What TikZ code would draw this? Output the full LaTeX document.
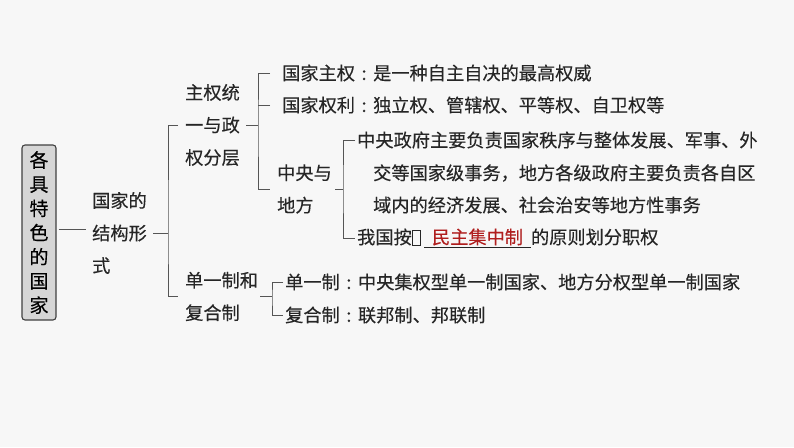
\documentclass[tikz,border=0pt]{standalone}
\usepackage{fontspec}
\newfontfamily\cjk[FakeBold=0.3]{Noto Sans CJK SC}
\definecolor{linegray}{HTML}{555555}
\definecolor{boxgray}{HTML}{D6D6D6}
\definecolor{keyred}{HTML}{B01E1E}
\newcommand{\tofu}{{\setlength{\fboxsep}{0pt}\setlength{\fboxrule}{0.6pt}\fbox{\rule[-1pt]{0pt}{14pt}\hspace{8pt}}}}
\newcommand{\colo}{\makebox[1em][c]{:}}
\tikzset{
  lbl/.style={anchor=west, inner sep=0pt, align=left, text=black!85,
    font=\cjk\fontsize{18.2}{32.5}\selectfont},
  topbox/.style={draw=black!75, fill=boxgray, rounded corners=3pt, line width=1.1pt,
    minimum width=34pt, minimum height=175pt, inner sep=0pt, align=center,
    font=\cjk\fontsize{19}{24.2}\selectfont},
  br/.style={draw=linegray, line width=0.9pt}
}
\begin{document}
\begin{tikzpicture}[x=1pt, y=-1pt]
\fill[black!3] (0,0) rectangle (794,447);
\useasboundingbox (0,0) rectangle (794,447);
\node[topbox] (T) at (39,232.5) {各\\具\\特\\色\\的\\国\\家};
\node[lbl] (k) at (92,233) {国家的\\结构形\\式};
\node[lbl] (s) at (185,125) {主权统\\一与政\\权分层};
\node[lbl] (u) at (185,296.5) {单一制和\\复合制};
\node[lbl] (m1) at (282,73) {国家主权\colo 是一种自主自决的最高权威};
\node[lbl] (m2) at (282,105) {国家权利\colo 独立权、管辖权、平等权、自卫权等};
\node[lbl] (z) at (277,189) {中央与\\地方};
\node[lbl] (c1) at (357,140) {中央政府主要负责国家秩序与整体发展、军事、外};
\node[lbl] (c2) at (373,173) {交等国家级事务，地方各级政府主要负责各自区};
\node[lbl] (c3) at (373,205) {域内的经济发展、社会治安等地方性事务};
\node[lbl] (c4) at (357,238) {我国按\tofu\,\underline{\hspace{8pt}\textcolor{keyred}{民主集中制}\hspace{8pt}}的原则划分职权};
\node[lbl] (d1) at (285,282) {单一制\colo 中央集权型单一制国家、地方分权型单一制国家};
\node[lbl] (d2) at (285,315) {复合制\colo 联邦制、邦联制};
\coordinate (j1) at (168,233);
\coordinate (j2) at (258,125);
\coordinate (j3) at (343,189);
\coordinate (j4) at (272,296.5);
\draw[br] ([xshift=2pt]T.east |- 0,229) -- ([xshift=-6pt]k.west |- 0,229);
\draw[br] ([xshift=6pt]k.east) -- (j1);
\draw[br] ([xshift=-7pt]s.west) -| (j1) |- ([xshift=-7pt]u.west);
\draw[br] ([xshift=6pt]s.east) -- (j2);
\draw[br] ([xshift=-12pt]m1.west) -| (j2) |- ([xshift=-7pt]z.west);
\draw[br] ([xshift=-12pt]m2.west) -- (m2.west -| j2);
\draw[br] ([xshift=3pt]z.east |- j3) -- (j3);
\draw[br] ([xshift=-2pt]c1.west) -| (j3) |- ([xshift=-2pt]c4.west);
\draw[br] ([xshift=2pt]u.east) -- (j4);
\draw[br] ([xshift=-2pt]d1.west) -| (j4) |- ([xshift=-2pt]d2.west);
\end{tikzpicture}
\end{document}
